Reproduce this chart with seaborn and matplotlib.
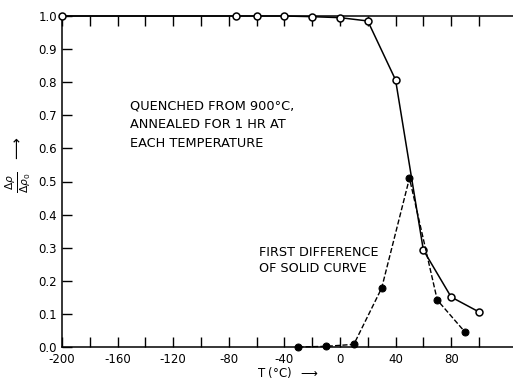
import matplotlib
matplotlib.use("Agg")
import matplotlib.pyplot as plt
import seaborn as sns
import numpy as np

# data
solid_T = [-200, -75, -60, -40, -20, 0, 20, 40, 60, 80, 100]
solid_v = [1.0, 1.0, 1.0, 1.0, 0.998, 0.995, 0.985, 0.807, 0.293, 0.151, 0.106]
diff_T = [-30, -10, 10, 30, 50, 70, 90]
diff_v = [0.0, 0.002, 0.008, 0.178, 0.51, 0.142, 0.045]
xtick_vals = [-200, -160, -120, -80, -40, 0, 40, 80]
ytick_vals = [0.0, 0.1, 0.2, 0.3, 0.4, 0.5, 0.6, 0.7, 0.8, 0.9, 1.0]

sns.set_style("ticks")
plt.rcParams['font.family'] = ['DejaVu Sans']
plt.rcParams['text.color'] = 'black'

fig = plt.figure(figsize=(5.13, 3.79), dpi=100)
ax = fig.add_axes([62/513, 1-347/379, 1-62/513, (347-16)/379])

sns.lineplot(x=solid_T, y=solid_v, ax=ax, color='black', lw=1.1, marker='o',
             markersize=5, markerfacecolor='white', markeredgecolor='black',
             markeredgewidth=1.1, sort=False, clip_on=False, zorder=3)
sns.lineplot(x=diff_T, y=diff_v, ax=ax, color='black', lw=1.0, linestyle='--',
             dashes=(4, 3), marker='o', markersize=5, markerfacecolor='black',
             markeredgecolor='black', sort=False, clip_on=False, zorder=3)

ax.set_xlim(-200, 124.5)
ax.set_ylim(0, 1.0)
ax.set_xticks(xtick_vals)
ax.set_xticklabels([str(v) for v in xtick_vals])
ax.set_xticks(np.arange(-180, 101, 20), minor=True)
ax.set_yticks(ytick_vals)
ax.set_yticklabels([f"{v:.1f}" for v in ytick_vals])
ax.tick_params(axis='both', which='both', direction='in', length=7, width=1.0,
               labelsize=8.5, colors='black')
ax.tick_params(axis='x', which='both', top=True, pad=4)
ax.spines['right'].set_visible(False)
for s in ['left', 'bottom', 'top']:
    ax.spines[s].set_linewidth(1.1)
    ax.spines[s].set_color('black')

ax.text(-151, 0.747, "QUENCHED FROM 900°C,\nANNEALED FOR 1 HR AT\nEACH TEMPERATURE",
        fontsize=9.3, va='top', ha='left', linespacing=1.55, color='black')
ax.text(-58, 0.306, "FIRST DIFFERENCE\nOF SOLID CURVE",
        fontsize=9.2, va='top', ha='left', linespacing=1.3, color='black')

fig.text(18/513, 1-165/379, r"$\frac{\Delta\rho}{\Delta\rho_0}$  $\longrightarrow$",
         rotation=90, fontsize=11, ha='center', va='center', color='black')
fig.text(288/513, 1-373/379, r"T (°C)  $\longrightarrow$", fontsize=8.5,
         ha='center', va='center', color='black')

fig.savefig("out.png", dpi=100)
